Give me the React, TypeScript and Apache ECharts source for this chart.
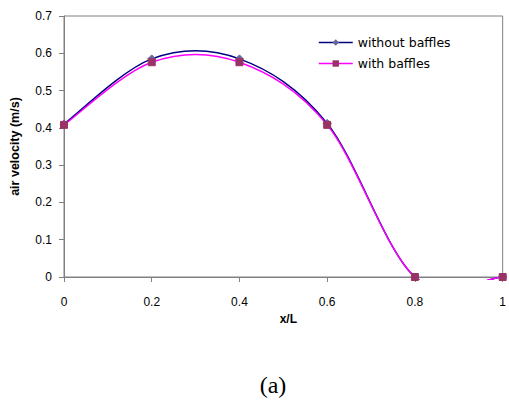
import React, { useEffect, useRef } from "react";
import * as echarts from "echarts";

const xValues = [0, 0.2, 0.4, 0.6, 0.8, 1];
const withoutBaffles = [0.41, 0.585, 0.585, 0.412, 0, 0];
const withBaffles = [0.408, 0.576, 0.576, 0.408, 0, 0];
const seriesNames = ["without baffles", "with baffles"];
const lineColors = ["#000080", "#ff00ff"];
const markerColors = ["#666699", "#993366"];

function curveSeries(name: string, ys: number[], color: string) {
  return {
    name,
    type: "custom",
    clip: false,
    silent: true,
    data: [[0]],
    renderItem: (params: any, api: any) => {
      const pts = xValues.map((x, i) => api.coord([x, ys[i]]));
      const n = pts.length;
      const p = (i: number) => pts[Math.max(0, Math.min(n - 1, i))];
      let d = `M${pts[0][0]},${pts[0][1]}`;
      for (let i = 0; i < n - 1; i++) {
        const p0 = p(i - 1), p1 = p(i), p2 = p(i + 1), p3 = p(i + 2);
        const c1x = p1[0] + (p2[0] - p0[0]) / 6;
        const c1y = p1[1] + (p2[1] - p0[1]) / 6;
        const c2x = p2[0] - (p3[0] - p1[0]) / 6;
        const c2y = p2[1] - (p3[1] - p1[1]) / 6;
        d += ` C${c1x},${c1y} ${c2x},${c2y} ${p2[0]},${p2[1]}`;
      }
      const tl = api.coord([0, 0.7]);
      const br = api.coord([1, 0]);
      return {
        type: "path",
        shape: { pathData: d },
        clipPath: {
          type: "rect",
          shape: { x: tl[0] - 2, y: tl[1], width: br[0] - tl[0] + 4, height: br[1] - tl[1] + 3 },
        },
        style: { fill: "none", stroke: color, lineWidth: 1.5 },
      };
    },
  };
}

export default function App() {
  const ref = useRef<HTMLDivElement>(null);
  useEffect(() => {
    document.body.style.margin = "0";
    const chart = echarts.init(ref.current!, null, { renderer: "svg" });
    const font = "'Liberation Sans', Arial, sans-serif";
    chart.setOption({
      animation: false,
      grid: {
        left: 63,
        top: 16,
        right: 6,
        bottom: 123,
        show: true,
        borderColor: "#808080",
        borderWidth: 1,
        containLabel: false,
      },
      legend: {
        orient: "vertical",
        left: 313,
        top: 31,
        itemWidth: 34,
        itemHeight: 8,
        itemGap: 8,
        textStyle: { fontFamily: "'DejaVu Sans', sans-serif", fontSize: 12.5, color: "#000" },
        data: seriesNames.map((name, i) => ({
          name,
          lineStyle: { opacity: 1, width: 1.5, color: lineColors[i] },
        })),
      },
      xAxis: {
        type: "value",
        min: 0,
        max: 1,
        interval: 0.2,
        name: "x/L",
        nameLocation: "middle",
        nameGap: 27,
        nameTextStyle: {
          fontFamily: font,
          fontSize: 12,
          fontWeight: "bold",
          color: "#000",
          padding: [0, 0, 0, 10],
        },
        axisLine: { onZero: false, lineStyle: { color: "#808080", width: 1 } },
        axisTick: { show: true, length: 5, lineStyle: { color: "#808080" } },
        axisLabel: {
          fontFamily: font,
          fontSize: 12,
          color: "#000",
          margin: 19,
        },
        splitLine: { show: false },
      },
      yAxis: {
        type: "value",
        min: 0,
        max: 0.7,
        interval: 0.1,
        name: "air velocity (m/s)",
        nameLocation: "middle",
        nameGap: 43,
        nameTextStyle: {
          fontFamily: font,
          fontSize: 12.5,
          fontWeight: "bold",
          color: "#000",
        },
        axisLine: { show: true, lineStyle: { color: "#808080", width: 1 } },
        axisTick: { show: true, length: 5, lineStyle: { color: "#808080" } },
        axisLabel: {
          fontFamily: font,
          fontSize: 12,
          color: "#000",
          margin: 12,
        },
        splitLine: { show: false },
      },
      series: [
        curveSeries("curve-without", withoutBaffles, lineColors[0]),
        curveSeries("curve-with", withBaffles, lineColors[1]),
        {
          name: seriesNames[0],
          type: "line",
          data: xValues.map((x, i) => [x, withoutBaffles[i]]),
          symbol: "diamond",
          symbolSize: 8,
          lineStyle: { color: lineColors[0], width: 1.5, opacity: 0 },
          itemStyle: { color: markerColors[0], borderColor: markerColors[0] },
          z: 3,
        },
        {
          name: seriesNames[1],
          type: "line",
          data: xValues.map((x, i) => [x, withBaffles[i]]),
          symbol: "rect",
          symbolSize: 7,
          lineStyle: { color: lineColors[1], width: 1.5, opacity: 0 },
          itemStyle: { color: markerColors[1], borderColor: markerColors[1] },
          z: 4,
        },
      ],
      graphic: [
        {
          type: "text",
          x: 273,
          y: 385,
          style: {
            text: "(a)",
            font: "24px 'Liberation Serif', 'Times New Roman', serif",
            fill: "#000",
            align: "center",
            verticalAlign: "middle",
          },
        },
      ],
    });
    return () => chart.dispose();
  }, []);
  return (
    <div
      ref={ref}
      style={{ width: 509, height: 400, position: "absolute", left: 0, top: 0 }}
    />
  );
}
